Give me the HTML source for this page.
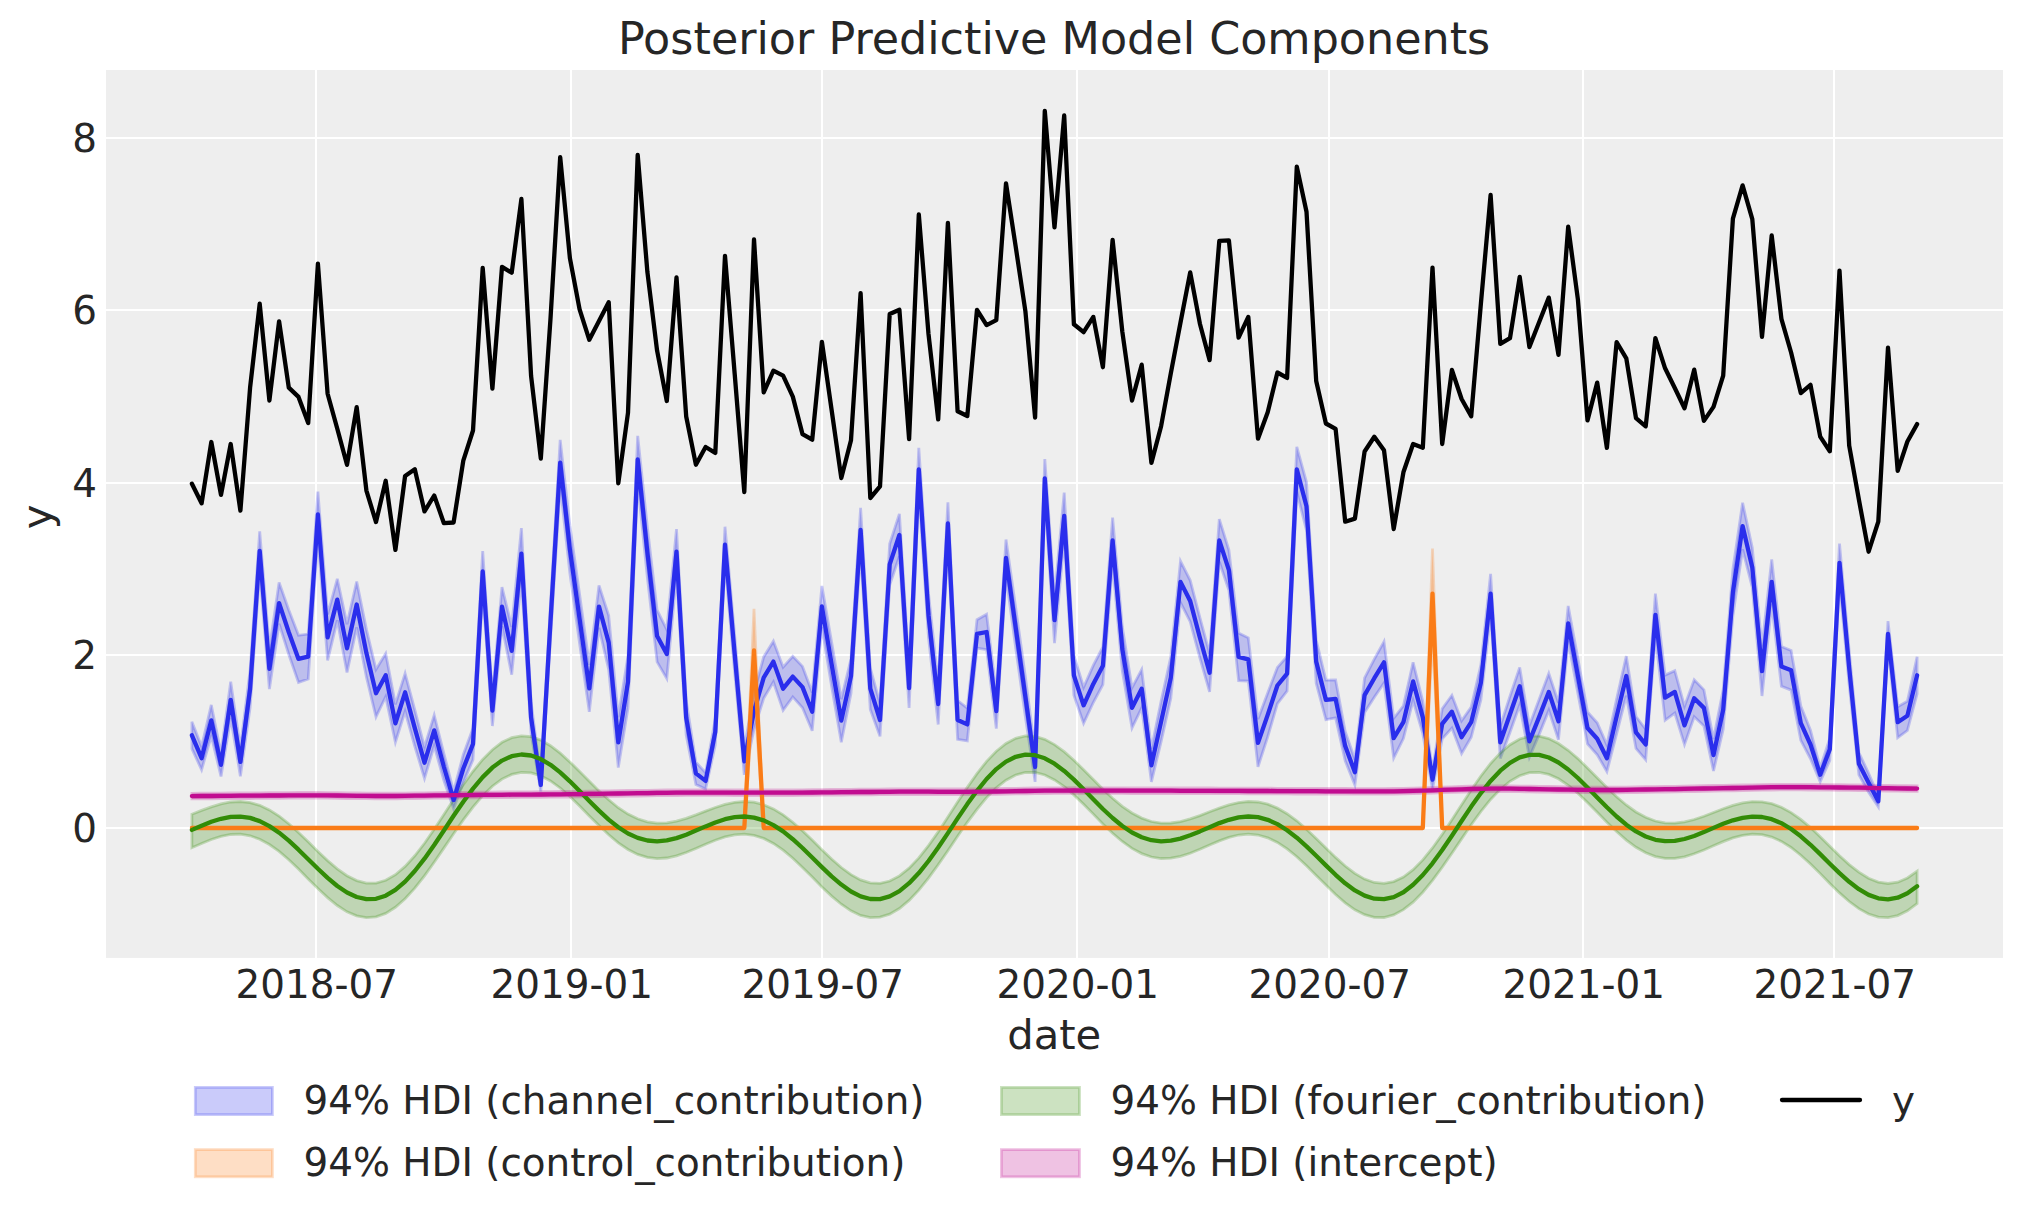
<!DOCTYPE html>
<html lang="en"><head><meta charset="utf-8"><title>Posterior Predictive Model Components</title>
<style>html,body{margin:0;padding:0;background:#fff}body{width:2023px;height:1223px;overflow:hidden}</style></head>
<body>
<svg width="2023" height="1223" viewBox="0 0 2023 1223" style="display:block;font-family:'DejaVu Sans','Liberation Sans',sans-serif">
<rect width="2023" height="1223" fill="#fff"/>
<rect x="106.0" y="70.0" width="1897.0" height="887.9" fill="#eeeeee"/>
<g fill="#fff" shape-rendering="crispEdges">
<rect x="315" y="70.0" width="2" height="887.9"/>
<rect x="570" y="70.0" width="2" height="887.9"/>
<rect x="821" y="70.0" width="2" height="887.9"/>
<rect x="1076" y="70.0" width="2" height="887.9"/>
<rect x="1328" y="70.0" width="2" height="887.9"/>
<rect x="1582" y="70.0" width="2" height="887.9"/>
<rect x="1833" y="70.0" width="2" height="887.9"/>
<rect x="106.0" y="827" width="1897.0" height="2"/>
<rect x="106.0" y="654" width="1897.0" height="2"/>
<rect x="106.0" y="482" width="1897.0" height="2"/>
<rect x="106.0" y="309" width="1897.0" height="2"/>
<rect x="106.0" y="137" width="1897.0" height="2"/>
</g>
<clipPath id="c"><rect x="106.0" y="70.0" width="1897.0" height="887.9"/></clipPath>
<g clip-path="url(#c)">
<polygon points="191.9,721.8 201.6,746.5 211.3,704.9 221.0,753.1 230.7,681.7 240.4,747.6 250.1,670.1 259.7,531.3 269.4,648.6 279.1,582.4 288.8,610.0 298.5,635.3 308.2,634.1 317.9,491.5 327.6,614.5 337.3,578.9 347.0,624.1 356.7,581.5 366.4,629.4 376.0,669.5 385.7,653.6 395.4,704.3 405.1,673.4 414.8,709.9 424.5,747.2 434.2,715.1 443.9,753.5 453.6,791.3 463.3,754.6 473.0,728.3 482.7,551.0 492.4,695.3 502.0,587.0 511.7,626.9 521.4,528.1 531.1,701.9 540.8,778.3 550.5,603.6 560.2,439.9 569.9,525.4 579.6,594.4 589.3,664.8 599.0,585.4 608.7,615.5 618.3,717.2 628.0,655.8 637.7,435.9 647.4,527.4 657.1,610.2 666.8,629.5 676.5,529.1 686.2,700.5 695.9,762.2 705.6,772.7 715.3,718.8 725.0,526.7 734.7,635.9 744.3,748.1 754.0,692.7 763.7,656.9 773.4,641.2 783.1,667.2 792.8,656.3 802.5,666.4 812.2,692.5 821.9,586.0 831.6,642.1 841.3,699.1 851.0,658.7 860.6,507.9 870.3,668.0 880.0,703.6 889.7,543.7 899.4,513.9 909.1,668.3 918.8,447.9 928.5,593.4 938.2,683.6 947.9,502.2 957.6,700.6 967.3,708.1 977.0,619.7 986.6,614.3 996.3,693.5 1006.0,539.5 1015.7,607.8 1025.4,677.0 1035.1,751.9 1044.8,459.1 1054.5,597.2 1064.2,492.6 1073.9,655.5 1083.6,687.2 1093.3,665.4 1102.9,647.0 1112.6,517.5 1122.3,626.8 1132.0,687.8 1141.7,669.6 1151.4,748.7 1161.1,701.4 1170.8,656.7 1180.5,561.2 1190.2,580.3 1199.9,617.6 1209.6,653.6 1219.3,519.1 1228.9,550.0 1238.6,633.0 1248.3,637.8 1258.0,719.1 1267.7,692.9 1277.4,667.4 1287.1,656.5 1296.8,446.9 1306.5,482.2 1316.2,640.1 1325.9,680.1 1335.6,680.0 1345.2,731.5 1354.9,759.5 1364.6,677.9 1374.3,659.2 1384.0,641.6 1393.7,718.3 1403.4,705.8 1413.1,662.3 1422.8,701.2 1432.5,770.1 1442.2,708.7 1451.9,695.3 1461.6,720.8 1471.2,707.1 1480.9,664.9 1490.6,573.9 1500.3,726.1 1510.0,696.3 1519.7,667.4 1529.4,725.4 1539.1,699.6 1548.8,673.5 1558.5,702.8 1568.2,605.9 1577.9,658.5 1587.5,712.0 1597.2,722.8 1606.9,744.9 1616.6,699.1 1626.3,656.1 1636.0,716.5 1645.7,729.3 1655.4,593.7 1665.1,675.1 1674.8,670.8 1684.5,706.3 1694.2,679.8 1703.9,689.8 1713.5,739.1 1723.2,689.6 1732.9,569.2 1742.6,502.8 1752.3,547.7 1762.0,646.4 1771.7,559.5 1781.4,646.6 1791.1,650.4 1800.8,705.9 1810.5,730.3 1820.2,767.9 1829.8,738.1 1839.5,543.6 1849.2,650.8 1858.9,752.5 1868.6,773.3 1878.3,795.7 1888.0,621.1 1897.7,706.7 1907.4,701.2 1917.1,656.8 1917.1,693.9 1907.4,730.5 1897.7,737.7 1888.0,646.6 1878.3,806.9 1868.6,792.3 1858.9,774.9 1849.2,685.2 1839.5,581.9 1829.8,760.5 1820.2,781.7 1810.5,758.8 1800.8,740.4 1791.1,690.1 1781.4,686.2 1771.7,604.3 1762.0,696.0 1752.3,587.4 1742.6,549.4 1732.9,615.7 1723.2,729.3 1713.5,771.0 1703.9,726.0 1694.2,716.8 1684.5,744.6 1674.8,713.1 1665.1,720.3 1655.4,635.8 1645.7,759.8 1636.0,748.4 1626.3,695.8 1616.6,733.9 1606.9,771.6 1597.2,754.8 1587.5,743.9 1577.9,693.5 1568.2,640.9 1558.5,739.7 1548.8,710.4 1539.1,734.6 1529.4,757.3 1519.7,705.0 1510.0,732.2 1500.3,758.5 1490.6,613.5 1480.9,699.8 1471.2,737.3 1461.6,753.6 1451.9,728.1 1442.2,738.9 1432.5,789.1 1422.8,733.7 1413.1,700.5 1403.4,738.6 1393.7,758.0 1384.0,683.0 1374.3,697.2 1364.6,712.4 1354.9,785.0 1345.2,760.8 1335.6,717.9 1325.9,719.7 1316.2,683.2 1306.5,530.5 1296.8,491.8 1287.1,691.0 1277.4,703.7 1267.7,736.9 1258.0,766.8 1248.3,681.0 1238.6,680.7 1228.9,590.2 1219.3,561.8 1209.6,691.9 1199.9,657.8 1190.2,621.7 1180.5,602.6 1170.8,698.4 1161.1,741.8 1151.4,781.8 1141.7,707.9 1132.0,728.0 1122.3,670.9 1112.6,563.4 1102.9,684.6 1093.3,702.5 1083.6,723.4 1073.9,695.2 1064.2,539.2 1054.5,643.1 1044.8,497.4 1035.1,781.9 1025.4,717.0 1015.7,647.9 1006.0,576.4 996.3,728.6 986.6,649.7 977.0,648.1 967.3,740.8 957.6,739.4 947.9,544.9 938.2,724.5 928.5,637.4 918.8,490.7 909.1,707.9 899.4,556.2 889.7,585.1 880.0,736.4 870.3,709.4 860.6,551.9 851.0,693.2 841.3,742.2 831.6,686.3 821.9,626.9 812.2,730.8 802.5,707.8 792.8,696.9 783.1,710.3 773.4,682.1 763.7,698.3 754.0,729.5 744.3,774.8 734.7,672.7 725.0,562.4 715.3,744.8 705.6,789.1 695.9,784.6 686.2,735.1 676.5,574.3 666.8,678.6 657.1,661.9 647.4,577.9 637.7,483.0 628.0,707.9 618.3,767.5 608.7,669.7 599.0,627.8 589.3,711.9 579.6,643.6 569.9,573.4 560.2,485.6 550.5,639.1 540.8,791.4 531.1,733.7 521.4,579.2 511.7,674.7 502.0,626.2 492.4,726.0 482.7,591.6 473.0,759.7 463.3,782.4 453.6,808.6 443.9,780.6 434.2,745.8 424.5,778.3 414.8,746.3 405.1,711.3 395.4,742.2 385.7,696.7 376.0,716.9 366.4,676.9 356.7,627.4 347.0,672.4 337.3,620.3 327.6,660.3 317.9,537.2 308.2,679.0 298.5,682.4 288.8,654.5 279.1,623.8 269.4,689.1 259.7,570.6 250.1,707.7 240.4,776.2 230.7,717.9 221.0,776.4 211.3,735.9 201.6,769.8 191.9,748.7" fill="#2a2eec" fill-opacity="0.25" stroke="#2a2eec" stroke-opacity="0.25" stroke-width="2.78" stroke-linejoin="miter"/>
<polygon points="191.9,828.0 201.6,828.0 211.3,828.0 221.0,828.0 230.7,828.0 240.4,828.0 250.1,828.0 259.7,828.0 269.4,828.0 279.1,828.0 288.8,828.0 298.5,828.0 308.2,828.0 317.9,828.0 327.6,828.0 337.3,828.0 347.0,828.0 356.7,828.0 366.4,828.0 376.0,828.0 385.7,828.0 395.4,828.0 405.1,828.0 414.8,828.0 424.5,828.0 434.2,828.0 443.9,828.0 453.6,828.0 463.3,828.0 473.0,828.0 482.7,828.0 492.4,828.0 502.0,828.0 511.7,828.0 521.4,828.0 531.1,828.0 540.8,828.0 550.5,828.0 560.2,828.0 569.9,828.0 579.6,828.0 589.3,828.0 599.0,828.0 608.7,828.0 618.3,828.0 628.0,828.0 637.7,828.0 647.4,828.0 657.1,828.0 666.8,828.0 676.5,828.0 686.2,828.0 695.9,828.0 705.6,828.0 715.3,828.0 725.0,828.0 734.7,828.0 744.3,828.0 754.0,608.9 763.7,828.0 773.4,828.0 783.1,828.0 792.8,828.0 802.5,828.0 812.2,828.0 821.9,828.0 831.6,828.0 841.3,828.0 851.0,828.0 860.6,828.0 870.3,828.0 880.0,828.0 889.7,828.0 899.4,828.0 909.1,828.0 918.8,828.0 928.5,828.0 938.2,828.0 947.9,828.0 957.6,828.0 967.3,828.0 977.0,828.0 986.6,828.0 996.3,828.0 1006.0,828.0 1015.7,828.0 1025.4,828.0 1035.1,828.0 1044.8,828.0 1054.5,828.0 1064.2,828.0 1073.9,828.0 1083.6,828.0 1093.3,828.0 1102.9,828.0 1112.6,828.0 1122.3,828.0 1132.0,828.0 1141.7,828.0 1151.4,828.0 1161.1,828.0 1170.8,828.0 1180.5,828.0 1190.2,828.0 1199.9,828.0 1209.6,828.0 1219.3,828.0 1228.9,828.0 1238.6,828.0 1248.3,828.0 1258.0,828.0 1267.7,828.0 1277.4,828.0 1287.1,828.0 1296.8,828.0 1306.5,828.0 1316.2,828.0 1325.9,828.0 1335.6,828.0 1345.2,828.0 1354.9,828.0 1364.6,828.0 1374.3,828.0 1384.0,828.0 1393.7,828.0 1403.4,828.0 1413.1,828.0 1422.8,828.0 1432.5,548.5 1442.2,828.0 1451.9,828.0 1461.6,828.0 1471.2,828.0 1480.9,828.0 1490.6,828.0 1500.3,828.0 1510.0,828.0 1519.7,828.0 1529.4,828.0 1539.1,828.0 1548.8,828.0 1558.5,828.0 1568.2,828.0 1577.9,828.0 1587.5,828.0 1597.2,828.0 1606.9,828.0 1616.6,828.0 1626.3,828.0 1636.0,828.0 1645.7,828.0 1655.4,828.0 1665.1,828.0 1674.8,828.0 1684.5,828.0 1694.2,828.0 1703.9,828.0 1713.5,828.0 1723.2,828.0 1732.9,828.0 1742.6,828.0 1752.3,828.0 1762.0,828.0 1771.7,828.0 1781.4,828.0 1791.1,828.0 1800.8,828.0 1810.5,828.0 1820.2,828.0 1829.8,828.0 1839.5,828.0 1849.2,828.0 1858.9,828.0 1868.6,828.0 1878.3,828.0 1888.0,828.0 1897.7,828.0 1907.4,828.0 1917.1,828.0 1917.1,828.0 1907.4,828.0 1897.7,828.0 1888.0,828.0 1878.3,828.0 1868.6,828.0 1858.9,828.0 1849.2,828.0 1839.5,828.0 1829.8,828.0 1820.2,828.0 1810.5,828.0 1800.8,828.0 1791.1,828.0 1781.4,828.0 1771.7,828.0 1762.0,828.0 1752.3,828.0 1742.6,828.0 1732.9,828.0 1723.2,828.0 1713.5,828.0 1703.9,828.0 1694.2,828.0 1684.5,828.0 1674.8,828.0 1665.1,828.0 1655.4,828.0 1645.7,828.0 1636.0,828.0 1626.3,828.0 1616.6,828.0 1606.9,828.0 1597.2,828.0 1587.5,828.0 1577.9,828.0 1568.2,828.0 1558.5,828.0 1548.8,828.0 1539.1,828.0 1529.4,828.0 1519.7,828.0 1510.0,828.0 1500.3,828.0 1490.6,828.0 1480.9,828.0 1471.2,828.0 1461.6,828.0 1451.9,828.0 1442.2,828.0 1432.5,638.2 1422.8,828.0 1413.1,828.0 1403.4,828.0 1393.7,828.0 1384.0,828.0 1374.3,828.0 1364.6,828.0 1354.9,828.0 1345.2,828.0 1335.6,828.0 1325.9,828.0 1316.2,828.0 1306.5,828.0 1296.8,828.0 1287.1,828.0 1277.4,828.0 1267.7,828.0 1258.0,828.0 1248.3,828.0 1238.6,828.0 1228.9,828.0 1219.3,828.0 1209.6,828.0 1199.9,828.0 1190.2,828.0 1180.5,828.0 1170.8,828.0 1161.1,828.0 1151.4,828.0 1141.7,828.0 1132.0,828.0 1122.3,828.0 1112.6,828.0 1102.9,828.0 1093.3,828.0 1083.6,828.0 1073.9,828.0 1064.2,828.0 1054.5,828.0 1044.8,828.0 1035.1,828.0 1025.4,828.0 1015.7,828.0 1006.0,828.0 996.3,828.0 986.6,828.0 977.0,828.0 967.3,828.0 957.6,828.0 947.9,828.0 938.2,828.0 928.5,828.0 918.8,828.0 909.1,828.0 899.4,828.0 889.7,828.0 880.0,828.0 870.3,828.0 860.6,828.0 851.0,828.0 841.3,828.0 831.6,828.0 821.9,828.0 812.2,828.0 802.5,828.0 792.8,828.0 783.1,828.0 773.4,828.0 763.7,828.0 754.0,691.7 744.3,828.0 734.7,828.0 725.0,828.0 715.3,828.0 705.6,828.0 695.9,828.0 686.2,828.0 676.5,828.0 666.8,828.0 657.1,828.0 647.4,828.0 637.7,828.0 628.0,828.0 618.3,828.0 608.7,828.0 599.0,828.0 589.3,828.0 579.6,828.0 569.9,828.0 560.2,828.0 550.5,828.0 540.8,828.0 531.1,828.0 521.4,828.0 511.7,828.0 502.0,828.0 492.4,828.0 482.7,828.0 473.0,828.0 463.3,828.0 453.6,828.0 443.9,828.0 434.2,828.0 424.5,828.0 414.8,828.0 405.1,828.0 395.4,828.0 385.7,828.0 376.0,828.0 366.4,828.0 356.7,828.0 347.0,828.0 337.3,828.0 327.6,828.0 317.9,828.0 308.2,828.0 298.5,828.0 288.8,828.0 279.1,828.0 269.4,828.0 259.7,828.0 250.1,828.0 240.4,828.0 230.7,828.0 221.0,828.0 211.3,828.0 201.6,828.0 191.9,828.0" fill="#fa7c17" fill-opacity="0.25" stroke="#fa7c17" stroke-opacity="0.25" stroke-width="2.78" stroke-linejoin="miter"/>
<polygon points="191.9,814.2 201.6,810.4 211.3,806.9 221.0,803.9 230.7,802.0 240.4,801.5 250.1,802.6 259.7,805.3 269.4,809.9 279.1,816.1 288.8,823.7 298.5,832.4 308.2,841.8 317.9,851.4 327.6,860.6 337.3,868.9 347.0,875.7 356.7,880.6 366.4,883.2 376.0,883.1 385.7,880.3 395.4,874.7 405.1,866.4 414.8,855.8 424.5,843.3 434.2,829.3 443.9,814.4 453.6,799.4 463.3,784.8 473.0,771.3 482.7,759.4 492.4,749.7 502.0,742.3 511.7,737.7 521.4,735.9 531.1,736.7 540.8,740.1 550.5,745.7 560.2,753.1 569.9,761.9 579.6,771.4 589.3,781.3 599.0,790.9 608.7,799.8 618.3,807.7 628.0,814.1 637.7,818.8 647.4,821.9 657.1,823.2 666.8,822.9 676.5,821.2 686.2,818.4 695.9,814.9 705.6,811.1 715.3,807.5 725.0,804.4 734.7,802.3 744.3,801.5 754.0,802.2 763.7,804.7 773.4,808.9 783.1,814.8 792.8,822.2 802.5,830.8 812.2,840.1 821.9,849.7 831.6,859.0 841.3,867.5 851.0,874.6 860.6,879.9 870.3,882.9 880.0,883.3 889.7,881.0 899.4,875.9 909.1,868.1 918.8,857.9 928.5,845.6 938.2,831.9 947.9,817.1 957.6,802.1 967.3,787.4 977.0,773.6 986.6,761.4 996.3,751.2 1006.0,743.5 1015.7,738.3 1025.4,736.0 1035.1,736.4 1044.8,739.3 1054.5,744.6 1064.2,751.7 1073.9,760.2 1083.6,769.7 1093.3,779.5 1102.9,789.2 1112.6,798.3 1122.3,806.4 1132.0,813.0 1141.7,818.1 1151.4,821.5 1161.1,823.1 1170.8,823.0 1180.5,821.6 1190.2,818.9 1199.9,815.6 1209.6,811.8 1219.3,808.1 1228.9,804.9 1238.6,802.6 1248.3,801.5 1258.0,802.0 1267.7,804.1 1277.4,808.1 1287.1,813.7 1296.8,820.8 1306.5,829.2 1316.2,838.4 1325.9,848.0 1335.6,857.4 1345.2,866.0 1354.9,873.4 1364.6,879.1 1374.3,882.5 1384.0,883.4 1393.7,881.6 1403.4,877.0 1413.1,869.7 1422.8,859.9 1432.5,848.0 1442.2,834.4 1451.9,819.8 1461.6,804.8 1471.2,789.9 1480.9,776.0 1490.6,763.5 1500.3,752.9 1510.0,744.7 1519.7,739.0 1529.4,736.2 1539.1,736.1 1548.8,738.6 1558.5,743.5 1568.2,750.3 1577.9,758.6 1587.5,768.0 1597.2,777.8 1606.9,787.5 1616.6,796.8 1626.3,805.0 1636.0,812.0 1645.7,817.3 1655.4,821.0 1665.1,822.9 1674.8,823.1 1684.5,821.9 1694.2,819.5 1703.9,816.2 1713.5,812.5 1723.2,808.7 1732.9,805.4 1742.6,802.9 1752.3,801.6 1762.0,801.8 1771.7,803.6 1781.4,807.2 1791.1,812.6 1800.8,819.4 1810.5,827.6 1820.2,836.7 1829.8,846.2 1839.5,855.7 1849.2,864.6 1858.9,872.2 1868.6,878.2 1878.3,882.1 1888.0,883.5 1897.7,882.2 1907.4,878.0 1917.1,871.2 1917.1,903.6 1907.4,910.8 1897.7,915.6 1888.0,917.6 1878.3,917.1 1868.6,914.0 1858.9,908.7 1849.2,901.5 1839.5,892.9 1829.8,883.4 1820.2,873.6 1810.5,864.0 1800.8,855.2 1791.1,847.5 1781.4,841.4 1771.7,837.1 1762.0,834.7 1752.3,834.2 1742.6,835.4 1732.9,837.9 1723.2,841.6 1713.5,845.7 1703.9,850.0 1694.2,853.8 1684.5,856.8 1674.8,858.4 1665.1,858.4 1655.4,856.6 1645.7,852.8 1636.0,847.3 1626.3,840.1 1616.6,831.6 1606.9,822.2 1597.2,812.3 1587.5,802.5 1577.9,793.3 1568.2,785.3 1558.5,778.8 1548.8,774.4 1539.1,772.3 1529.4,772.7 1519.7,775.7 1510.0,781.3 1500.3,789.4 1490.6,799.5 1480.9,811.5 1471.2,824.8 1461.6,838.9 1451.9,853.2 1442.2,867.3 1432.5,880.4 1422.8,892.2 1413.1,902.1 1403.4,909.7 1393.7,914.9 1384.0,917.5 1374.3,917.4 1364.6,914.7 1354.9,909.8 1345.2,902.9 1335.6,894.5 1325.9,885.1 1316.2,875.4 1306.5,865.7 1296.8,856.7 1287.1,848.8 1277.4,842.4 1267.7,837.8 1258.0,835.0 1248.3,834.1 1238.6,835.0 1228.9,837.4 1219.3,840.9 1209.6,845.0 1199.9,849.3 1190.2,853.2 1180.5,856.3 1170.8,858.2 1161.1,858.5 1151.4,857.0 1141.7,853.6 1132.0,848.4 1122.3,841.5 1112.6,833.2 1102.9,823.9 1093.3,814.1 1083.6,804.3 1073.9,794.9 1064.2,786.6 1054.5,779.9 1044.8,775.0 1035.1,772.5 1025.4,772.5 1015.7,775.0 1006.0,780.2 996.3,787.8 986.6,797.6 977.0,809.3 967.3,822.3 957.6,836.3 947.9,850.7 938.2,864.8 928.5,878.1 918.8,890.2 909.1,900.4 899.4,908.5 889.7,914.2 880.0,917.2 870.3,917.6 860.6,915.4 851.0,910.8 841.3,904.2 831.6,896.1 821.9,886.9 812.2,877.1 802.5,867.4 792.8,858.2 783.1,850.1 773.4,843.4 763.7,838.4 754.0,835.4 744.3,834.2 734.7,834.8 725.0,836.9 715.3,840.2 705.6,844.2 695.9,848.5 686.2,852.5 676.5,855.8 666.8,858.0 657.1,858.6 647.4,857.4 637.7,854.4 628.0,849.5 618.3,842.9 608.7,834.8 599.0,825.6 589.3,815.9 579.6,806.0 569.9,796.5 560.2,788.0 550.5,780.9 540.8,775.7 531.1,772.8 521.4,772.3 511.7,774.4 502.0,779.1 492.4,786.2 482.7,795.7 473.0,807.1 463.3,819.9 453.6,833.8 443.9,848.1 434.2,862.3 424.5,875.8 414.8,888.2 405.1,898.8 395.4,907.3 385.7,913.4 376.0,916.9 366.4,917.7 356.7,915.9 347.0,911.8 337.3,905.5 327.6,897.6 317.9,888.6 308.2,878.9 298.5,869.1 288.8,859.8 279.1,851.4 269.4,844.5 259.7,839.2 250.1,835.8 240.4,834.2 230.7,834.5 221.0,836.4 211.3,839.5 201.6,843.5 191.9,847.7" fill="#328c06" fill-opacity="0.25" stroke="#328c06" stroke-opacity="0.25" stroke-width="2.78" stroke-linejoin="miter"/>
<polygon points="191.9,793.3 201.6,793.2 211.3,793.2 221.0,793.1 230.7,793.0 240.4,792.9 250.1,792.9 259.7,792.8 269.4,792.7 279.1,792.7 288.8,792.6 298.5,792.5 308.2,792.5 317.9,792.5 327.6,792.6 337.3,792.7 347.0,792.9 356.7,793.0 366.4,793.1 376.0,793.2 385.7,793.2 395.4,793.2 405.1,793.1 414.8,792.9 424.5,792.8 434.2,792.6 443.9,792.5 453.6,792.4 463.3,792.3 473.0,792.2 482.7,792.1 492.4,792.1 502.0,792.0 511.7,791.9 521.4,791.8 531.1,791.8 540.8,791.7 550.5,791.6 560.2,791.5 569.9,791.4 579.6,791.3 589.3,791.1 599.0,791.0 608.7,790.8 618.3,790.7 628.0,790.5 637.7,790.4 647.4,790.3 657.1,790.1 666.8,790.0 676.5,789.9 686.2,789.8 695.9,789.8 705.6,789.8 715.3,789.8 725.0,789.8 734.7,789.9 744.3,789.9 754.0,789.9 763.7,789.9 773.4,789.9 783.1,789.9 792.8,789.9 802.5,789.8 812.2,789.7 821.9,789.6 831.6,789.5 841.3,789.4 851.0,789.3 860.6,789.2 870.3,789.2 880.0,789.1 889.7,789.0 899.4,788.9 909.1,788.9 918.8,788.9 928.5,788.9 938.2,789.0 947.9,789.0 957.6,789.0 967.3,789.0 977.0,788.9 986.6,788.8 996.3,788.7 1006.0,788.5 1015.7,788.3 1025.4,788.2 1035.1,788.0 1044.8,787.9 1054.5,787.8 1064.2,787.8 1073.9,787.7 1083.6,787.8 1093.3,787.8 1102.9,787.8 1112.6,787.8 1122.3,787.8 1132.0,787.9 1141.7,787.9 1151.4,787.9 1161.1,787.9 1170.8,787.9 1180.5,788.0 1190.2,788.0 1199.9,788.0 1209.6,788.0 1219.3,788.1 1228.9,788.1 1238.6,788.1 1248.3,788.2 1258.0,788.2 1267.7,788.2 1277.4,788.3 1287.1,788.3 1296.8,788.4 1306.5,788.4 1316.2,788.4 1325.9,788.5 1335.6,788.5 1345.2,788.5 1354.9,788.6 1364.6,788.6 1374.3,788.6 1384.0,788.6 1393.7,788.5 1403.4,788.3 1413.1,788.1 1422.8,787.8 1432.5,787.5 1442.2,787.1 1451.9,786.8 1461.6,786.5 1471.2,786.2 1480.9,786.0 1490.6,785.9 1500.3,785.9 1510.0,785.9 1519.7,786.1 1529.4,786.2 1539.1,786.4 1548.8,786.5 1558.5,786.7 1568.2,786.8 1577.9,787.0 1587.5,787.1 1597.2,787.2 1606.9,787.2 1616.6,787.2 1626.3,787.1 1636.0,786.9 1645.7,786.7 1655.4,786.6 1665.1,786.4 1674.8,786.3 1684.5,786.1 1694.2,785.9 1703.9,785.7 1713.5,785.5 1723.2,785.3 1732.9,785.2 1742.6,785.0 1752.3,784.8 1762.0,784.6 1771.7,784.4 1781.4,784.3 1791.1,784.3 1800.8,784.3 1810.5,784.4 1820.2,784.5 1829.8,784.6 1839.5,784.7 1849.2,784.8 1858.9,784.9 1868.6,785.1 1878.3,785.3 1888.0,785.4 1897.7,785.6 1907.4,785.7 1917.1,785.8 1917.1,791.4 1907.4,791.3 1897.7,791.2 1888.0,791.0 1878.3,790.9 1868.6,790.7 1858.9,790.5 1849.2,790.4 1839.5,790.3 1829.8,790.2 1820.2,790.1 1810.5,790.0 1800.8,789.9 1791.1,789.9 1781.4,789.9 1771.7,790.0 1762.0,790.2 1752.3,790.4 1742.6,790.6 1732.9,790.8 1723.2,790.9 1713.5,791.1 1703.9,791.3 1694.2,791.5 1684.5,791.7 1674.8,791.9 1665.1,792.0 1655.4,792.2 1645.7,792.3 1636.0,792.5 1626.3,792.7 1616.6,792.8 1606.9,792.8 1597.2,792.8 1587.5,792.7 1577.9,792.6 1568.2,792.4 1558.5,792.3 1548.8,792.1 1539.1,792.0 1529.4,791.8 1519.7,791.7 1510.0,791.5 1500.3,791.5 1490.6,791.5 1480.9,791.6 1471.2,791.8 1461.6,792.1 1451.9,792.4 1442.2,792.7 1432.5,793.1 1422.8,793.4 1413.1,793.7 1403.4,793.9 1393.7,794.1 1384.0,794.2 1374.3,794.2 1364.6,794.2 1354.9,794.2 1345.2,794.1 1335.6,794.1 1325.9,794.1 1316.2,794.0 1306.5,794.0 1296.8,794.0 1287.1,793.9 1277.4,793.9 1267.7,793.8 1258.0,793.8 1248.3,793.8 1238.6,793.7 1228.9,793.7 1219.3,793.7 1209.6,793.6 1199.9,793.6 1190.2,793.6 1180.5,793.6 1170.8,793.5 1161.1,793.5 1151.4,793.5 1141.7,793.5 1132.0,793.5 1122.3,793.4 1112.6,793.4 1102.9,793.4 1093.3,793.4 1083.6,793.4 1073.9,793.3 1064.2,793.4 1054.5,793.4 1044.8,793.5 1035.1,793.6 1025.4,793.8 1015.7,793.9 1006.0,794.1 996.3,794.3 986.6,794.4 977.0,794.5 967.3,794.6 957.6,794.6 947.9,794.6 938.2,794.6 928.5,794.5 918.8,794.5 909.1,794.5 899.4,794.5 889.7,794.6 880.0,794.7 870.3,794.8 860.6,794.8 851.0,794.9 841.3,795.0 831.6,795.1 821.9,795.2 812.2,795.3 802.5,795.4 792.8,795.5 783.1,795.5 773.4,795.5 763.7,795.5 754.0,795.5 744.3,795.5 734.7,795.5 725.0,795.4 715.3,795.4 705.6,795.4 695.9,795.4 686.2,795.4 676.5,795.5 666.8,795.6 657.1,795.7 647.4,795.9 637.7,796.0 628.0,796.1 618.3,796.3 608.7,796.4 599.0,796.6 589.3,796.7 579.6,796.9 569.9,797.0 560.2,797.1 550.5,797.2 540.8,797.3 531.1,797.4 521.4,797.4 511.7,797.5 502.0,797.6 492.4,797.7 482.7,797.7 473.0,797.8 463.3,797.9 453.6,798.0 443.9,798.1 434.2,798.2 424.5,798.4 414.8,798.5 405.1,798.7 395.4,798.8 385.7,798.8 376.0,798.8 366.4,798.7 356.7,798.6 347.0,798.5 337.3,798.3 327.6,798.2 317.9,798.1 308.2,798.1 298.5,798.1 288.8,798.2 279.1,798.3 269.4,798.3 259.7,798.4 250.1,798.5 240.4,798.5 230.7,798.6 221.0,798.7 211.3,798.8 201.6,798.8 191.9,798.9" fill="#c10c90" fill-opacity="0.25" stroke="#c10c90" stroke-opacity="0.25" stroke-width="2.78" stroke-linejoin="miter"/>
<polyline points="191.9,735.3 201.6,758.2 211.3,720.4 221.0,764.8 230.7,699.8 240.4,761.9 250.1,688.9 259.7,551.0 269.4,668.9 279.1,603.1 288.8,632.2 298.5,658.9 308.2,656.6 317.9,514.3 327.6,637.4 337.3,599.6 347.0,648.3 356.7,604.5 366.4,653.1 376.0,693.2 385.7,675.2 395.4,723.3 405.1,692.3 414.8,728.1 424.5,762.7 434.2,730.4 443.9,767.0 453.6,800.0 463.3,768.5 473.0,744.0 482.7,571.3 492.4,710.6 502.0,606.6 511.7,650.8 521.4,553.6 531.1,717.8 540.8,784.9 550.5,621.3 560.2,462.7 569.9,549.4 579.6,619.0 589.3,688.4 599.0,606.6 608.7,642.6 618.3,742.3 628.0,681.8 637.7,459.4 647.4,552.6 657.1,636.1 666.8,654.0 676.5,551.7 686.2,717.8 695.9,773.4 705.6,780.9 715.3,731.8 725.0,544.6 734.7,654.3 744.3,761.4 754.0,711.1 763.7,677.6 773.4,661.6 783.1,688.7 792.8,676.6 802.5,687.1 812.2,711.7 821.9,606.5 831.6,664.2 841.3,720.6 851.0,676.0 860.6,529.9 870.3,688.7 880.0,720.0 889.7,564.4 899.4,535.0 909.1,688.1 918.8,469.3 928.5,615.4 938.2,704.0 947.9,523.5 957.6,720.0 967.3,724.4 977.0,633.9 986.6,632.0 996.3,711.1 1006.0,558.0 1015.7,627.8 1025.4,697.0 1035.1,766.9 1044.8,478.3 1054.5,620.2 1064.2,515.9 1073.9,675.3 1083.6,705.3 1093.3,683.9 1102.9,665.8 1112.6,540.4 1122.3,648.9 1132.0,707.9 1141.7,688.7 1151.4,765.3 1161.1,721.6 1170.8,677.6 1180.5,581.9 1190.2,601.0 1199.9,637.7 1209.6,672.8 1219.3,540.4 1228.9,570.1 1238.6,656.8 1248.3,659.4 1258.0,742.9 1267.7,714.9 1277.4,685.5 1287.1,673.7 1296.8,469.3 1306.5,506.3 1316.2,661.6 1325.9,699.9 1335.6,698.9 1345.2,746.1 1354.9,772.3 1364.6,695.1 1374.3,678.2 1384.0,662.3 1393.7,738.2 1403.4,722.2 1413.1,681.4 1422.8,717.4 1432.5,779.6 1442.2,723.8 1451.9,711.7 1461.6,737.2 1471.2,722.2 1480.9,682.4 1490.6,593.7 1500.3,742.3 1510.0,714.2 1519.7,686.2 1529.4,741.3 1539.1,717.1 1548.8,691.9 1558.5,721.3 1568.2,623.4 1577.9,676.0 1587.5,728.0 1597.2,738.8 1606.9,758.3 1616.6,716.5 1626.3,676.0 1636.0,732.4 1645.7,744.5 1655.4,614.8 1665.1,697.7 1674.8,691.9 1684.5,725.4 1694.2,698.3 1703.9,707.9 1713.5,755.1 1723.2,709.5 1732.9,592.4 1742.6,526.1 1752.3,567.6 1762.0,671.2 1771.7,581.9 1781.4,666.4 1791.1,670.2 1800.8,723.2 1810.5,744.5 1820.2,774.8 1829.8,749.3 1839.5,562.8 1849.2,668.0 1858.9,763.7 1868.6,782.8 1878.3,801.3 1888.0,633.9 1897.7,722.2 1907.4,715.8 1917.1,675.3" fill="none" stroke="#2a2eec" stroke-width="4.3" stroke-linejoin="round" stroke-linecap="round"/>
<polyline points="191.9,828.0 201.6,828.0 211.3,828.0 221.0,828.0 230.7,828.0 240.4,828.0 250.1,828.0 259.7,828.0 269.4,828.0 279.1,828.0 288.8,828.0 298.5,828.0 308.2,828.0 317.9,828.0 327.6,828.0 337.3,828.0 347.0,828.0 356.7,828.0 366.4,828.0 376.0,828.0 385.7,828.0 395.4,828.0 405.1,828.0 414.8,828.0 424.5,828.0 434.2,828.0 443.9,828.0 453.6,828.0 463.3,828.0 473.0,828.0 482.7,828.0 492.4,828.0 502.0,828.0 511.7,828.0 521.4,828.0 531.1,828.0 540.8,828.0 550.5,828.0 560.2,828.0 569.9,828.0 579.6,828.0 589.3,828.0 599.0,828.0 608.7,828.0 618.3,828.0 628.0,828.0 637.7,828.0 647.4,828.0 657.1,828.0 666.8,828.0 676.5,828.0 686.2,828.0 695.9,828.0 705.6,828.0 715.3,828.0 725.0,828.0 734.7,828.0 744.3,828.0 754.0,650.3 763.7,828.0 773.4,828.0 783.1,828.0 792.8,828.0 802.5,828.0 812.2,828.0 821.9,828.0 831.6,828.0 841.3,828.0 851.0,828.0 860.6,828.0 870.3,828.0 880.0,828.0 889.7,828.0 899.4,828.0 909.1,828.0 918.8,828.0 928.5,828.0 938.2,828.0 947.9,828.0 957.6,828.0 967.3,828.0 977.0,828.0 986.6,828.0 996.3,828.0 1006.0,828.0 1015.7,828.0 1025.4,828.0 1035.1,828.0 1044.8,828.0 1054.5,828.0 1064.2,828.0 1073.9,828.0 1083.6,828.0 1093.3,828.0 1102.9,828.0 1112.6,828.0 1122.3,828.0 1132.0,828.0 1141.7,828.0 1151.4,828.0 1161.1,828.0 1170.8,828.0 1180.5,828.0 1190.2,828.0 1199.9,828.0 1209.6,828.0 1219.3,828.0 1228.9,828.0 1238.6,828.0 1248.3,828.0 1258.0,828.0 1267.7,828.0 1277.4,828.0 1287.1,828.0 1296.8,828.0 1306.5,828.0 1316.2,828.0 1325.9,828.0 1335.6,828.0 1345.2,828.0 1354.9,828.0 1364.6,828.0 1374.3,828.0 1384.0,828.0 1393.7,828.0 1403.4,828.0 1413.1,828.0 1422.8,828.0 1432.5,593.7 1442.2,828.0 1451.9,828.0 1461.6,828.0 1471.2,828.0 1480.9,828.0 1490.6,828.0 1500.3,828.0 1510.0,828.0 1519.7,828.0 1529.4,828.0 1539.1,828.0 1548.8,828.0 1558.5,828.0 1568.2,828.0 1577.9,828.0 1587.5,828.0 1597.2,828.0 1606.9,828.0 1616.6,828.0 1626.3,828.0 1636.0,828.0 1645.7,828.0 1655.4,828.0 1665.1,828.0 1674.8,828.0 1684.5,828.0 1694.2,828.0 1703.9,828.0 1713.5,828.0 1723.2,828.0 1732.9,828.0 1742.6,828.0 1752.3,828.0 1762.0,828.0 1771.7,828.0 1781.4,828.0 1791.1,828.0 1800.8,828.0 1810.5,828.0 1820.2,828.0 1829.8,828.0 1839.5,828.0 1849.2,828.0 1858.9,828.0 1868.6,828.0 1878.3,828.0 1888.0,828.0 1897.7,828.0 1907.4,828.0 1917.1,828.0" fill="none" stroke="#fa7c17" stroke-width="4.3" stroke-linejoin="round" stroke-linecap="round"/>
<polyline points="191.9,829.9 201.6,825.7 211.3,821.8 221.0,818.8 230.7,816.9 240.4,816.6 250.1,817.9 259.7,821.1 269.4,826.1 279.1,832.7 288.8,840.7 298.5,849.7 308.2,859.2 317.9,868.8 327.6,877.9 337.3,886.0 347.0,892.5 356.7,897.0 366.4,899.2 376.0,898.8 385.7,895.7 395.4,889.9 405.1,881.6 414.8,871.0 424.5,858.7 434.2,845.0 443.9,830.5 453.6,815.8 463.3,801.7 473.0,788.6 482.7,777.1 492.4,767.6 502.0,760.6 511.7,756.2 521.4,754.5 531.1,755.5 540.8,759.1 550.5,764.8 560.2,772.4 569.9,781.3 579.6,791.0 589.3,801.0 599.0,810.6 608.7,819.6 618.3,827.3 628.0,833.5 637.7,837.9 647.4,840.5 657.1,841.3 666.8,840.4 676.5,838.1 686.2,834.7 695.9,830.6 705.6,826.4 715.3,822.5 725.0,819.2 734.7,817.2 744.3,816.5 754.0,817.6 763.7,820.4 773.4,825.1 783.1,831.4 792.8,839.2 802.5,848.0 812.2,857.5 821.9,867.1 831.6,876.4 841.3,884.6 851.0,891.5 860.6,896.4 870.3,899.0 880.0,899.1 889.7,896.4 899.4,891.1 909.1,883.2 918.8,873.1 928.5,861.0 938.2,847.5 947.9,833.1 957.6,818.4 967.3,804.1 977.0,790.8 986.6,779.0 996.3,769.1 1006.0,761.6 1015.7,756.8 1025.4,754.6 1035.1,755.2 1044.8,758.3 1054.5,763.7 1064.2,770.9 1073.9,779.6 1083.6,789.2 1093.3,799.2 1102.9,809.0 1112.6,818.0 1122.3,826.0 1132.0,832.5 1141.7,837.2 1151.4,840.2 1161.1,841.3 1170.8,840.6 1180.5,838.6 1190.2,835.3 1199.9,831.4 1209.6,827.2 1219.3,823.1 1228.9,819.8 1238.6,817.4 1248.3,816.5 1258.0,817.2 1267.7,819.8 1277.4,824.1 1287.1,830.2 1296.8,837.7 1306.5,846.4 1316.2,855.8 1325.9,865.4 1335.6,874.8 1345.2,883.3 1354.9,890.4 1364.6,895.6 1374.3,898.7 1384.0,899.2 1393.7,897.1 1403.4,892.3 1413.1,884.8 1422.8,875.0 1432.5,863.3 1442.2,850.0 1451.9,835.7 1461.6,821.0 1471.2,806.6 1480.9,793.1 1490.6,780.9 1500.3,770.7 1510.0,762.8 1519.7,757.4 1529.4,754.8 1539.1,754.9 1548.8,757.5 1558.5,762.5 1568.2,769.5 1577.9,778.0 1587.5,787.5 1597.2,797.4 1606.9,807.2 1616.6,816.5 1626.3,824.7 1636.0,831.4 1645.7,836.5 1655.4,839.8 1665.1,841.2 1674.8,840.9 1684.5,839.0 1694.2,836.0 1703.9,832.1 1713.5,827.9 1723.2,823.8 1732.9,820.3 1742.6,817.8 1752.3,816.6 1762.0,817.0 1771.7,819.2 1781.4,823.2 1791.1,829.0 1800.8,836.3 1810.5,844.8 1820.2,854.1 1829.8,863.7 1839.5,873.1 1849.2,881.8 1858.9,889.2 1868.6,894.9 1878.3,898.3 1888.0,899.3 1897.7,897.7 1907.4,893.3 1917.1,886.3" fill="none" stroke="#328c06" stroke-width="4.3" stroke-linejoin="round" stroke-linecap="round"/>
<polyline points="191.9,796.1 201.6,796.0 211.3,796.0 221.0,795.9 230.7,795.8 240.4,795.7 250.1,795.7 259.7,795.6 269.4,795.5 279.1,795.5 288.8,795.4 298.5,795.3 308.2,795.3 317.9,795.3 327.6,795.4 337.3,795.5 347.0,795.7 356.7,795.8 366.4,795.9 376.0,796.0 385.7,796.0 395.4,796.0 405.1,795.9 414.8,795.7 424.5,795.6 434.2,795.4 443.9,795.3 453.6,795.2 463.3,795.1 473.0,795.0 482.7,794.9 492.4,794.9 502.0,794.8 511.7,794.7 521.4,794.6 531.1,794.6 540.8,794.5 550.5,794.4 560.2,794.3 569.9,794.2 579.6,794.1 589.3,793.9 599.0,793.8 608.7,793.6 618.3,793.5 628.0,793.3 637.7,793.2 647.4,793.1 657.1,792.9 666.8,792.8 676.5,792.7 686.2,792.6 695.9,792.6 705.6,792.6 715.3,792.6 725.0,792.6 734.7,792.7 744.3,792.7 754.0,792.7 763.7,792.7 773.4,792.7 783.1,792.7 792.8,792.7 802.5,792.6 812.2,792.5 821.9,792.4 831.6,792.3 841.3,792.2 851.0,792.1 860.6,792.0 870.3,792.0 880.0,791.9 889.7,791.8 899.4,791.7 909.1,791.7 918.8,791.7 928.5,791.7 938.2,791.8 947.9,791.8 957.6,791.8 967.3,791.8 977.0,791.7 986.6,791.6 996.3,791.5 1006.0,791.3 1015.7,791.1 1025.4,791.0 1035.1,790.8 1044.8,790.7 1054.5,790.6 1064.2,790.6 1073.9,790.5 1083.6,790.6 1093.3,790.6 1102.9,790.6 1112.6,790.6 1122.3,790.6 1132.0,790.7 1141.7,790.7 1151.4,790.7 1161.1,790.7 1170.8,790.7 1180.5,790.8 1190.2,790.8 1199.9,790.8 1209.6,790.8 1219.3,790.9 1228.9,790.9 1238.6,790.9 1248.3,791.0 1258.0,791.0 1267.7,791.0 1277.4,791.1 1287.1,791.1 1296.8,791.2 1306.5,791.2 1316.2,791.2 1325.9,791.3 1335.6,791.3 1345.2,791.3 1354.9,791.4 1364.6,791.4 1374.3,791.4 1384.0,791.4 1393.7,791.3 1403.4,791.1 1413.1,790.9 1422.8,790.6 1432.5,790.3 1442.2,789.9 1451.9,789.6 1461.6,789.3 1471.2,789.0 1480.9,788.8 1490.6,788.7 1500.3,788.7 1510.0,788.7 1519.7,788.9 1529.4,789.0 1539.1,789.2 1548.8,789.3 1558.5,789.5 1568.2,789.6 1577.9,789.8 1587.5,789.9 1597.2,790.0 1606.9,790.0 1616.6,790.0 1626.3,789.9 1636.0,789.7 1645.7,789.5 1655.4,789.4 1665.1,789.2 1674.8,789.1 1684.5,788.9 1694.2,788.7 1703.9,788.5 1713.5,788.3 1723.2,788.1 1732.9,788.0 1742.6,787.8 1752.3,787.6 1762.0,787.4 1771.7,787.2 1781.4,787.1 1791.1,787.1 1800.8,787.1 1810.5,787.2 1820.2,787.3 1829.8,787.4 1839.5,787.5 1849.2,787.6 1858.9,787.7 1868.6,787.9 1878.3,788.1 1888.0,788.2 1897.7,788.4 1907.4,788.5 1917.1,788.6" fill="none" stroke="#c10c90" stroke-width="4.3" stroke-linejoin="round" stroke-linecap="round"/>
<polyline points="191.9,483.7 201.6,503.3 211.3,442.0 221.0,494.8 230.7,444.0 240.4,510.7 250.1,387.6 259.7,303.7 269.4,400.6 279.1,321.3 288.8,387.6 298.5,396.9 308.2,423.1 317.9,263.7 327.6,393.7 337.3,428.8 347.0,464.8 356.7,407.2 366.4,490.6 376.0,522.0 385.7,480.8 395.4,549.9 405.1,475.9 414.8,469.2 424.5,511.4 434.2,495.5 443.9,523.2 453.6,522.5 463.3,460.7 473.0,430.5 482.7,268.0 492.4,388.6 502.0,266.8 511.7,272.7 521.4,199.0 531.1,376.1 540.8,458.5 550.5,318.7 560.2,157.1 569.9,258.1 579.6,309.3 589.3,339.8 599.0,321.1 608.7,302.2 618.3,483.3 628.0,412.8 637.7,154.9 647.4,272.1 657.1,350.7 666.8,401.0 676.5,277.3 686.2,416.5 695.9,464.7 705.6,447.0 715.3,452.9 725.0,255.9 734.7,374.0 744.3,492.0 754.0,239.5 763.7,392.4 773.4,370.7 783.1,375.7 792.8,396.6 802.5,434.1 812.2,439.7 821.9,341.8 831.6,409.9 841.3,478.0 851.0,440.2 860.6,293.2 870.3,498.0 880.0,486.4 889.7,314.0 899.4,309.8 909.1,439.1 918.8,214.5 928.5,334.0 938.2,419.4 947.9,222.8 957.6,411.3 967.3,416.0 977.0,309.8 986.6,325.1 996.3,320.1 1006.0,183.3 1015.7,246.7 1025.4,311.3 1035.1,417.5 1044.8,110.9 1054.5,227.4 1064.2,115.5 1073.9,324.3 1083.6,332.1 1093.3,316.9 1102.9,367.2 1112.6,239.8 1122.3,331.5 1132.0,400.5 1141.7,364.7 1151.4,462.9 1161.1,426.2 1170.8,373.4 1180.5,322.5 1190.2,272.4 1199.9,323.7 1209.6,360.1 1219.3,240.8 1228.9,240.4 1238.6,337.7 1248.3,316.9 1258.0,438.7 1267.7,412.3 1277.4,372.5 1287.1,377.9 1296.8,166.6 1306.5,211.7 1316.2,381.0 1325.9,423.5 1335.6,428.9 1345.2,521.7 1354.9,518.6 1364.6,451.5 1374.3,436.7 1384.0,450.3 1393.7,529.0 1403.4,472.3 1413.1,444.0 1422.8,447.8 1432.5,267.7 1442.2,444.0 1451.9,370.0 1461.6,399.0 1471.2,416.3 1480.9,303.6 1490.6,195.0 1500.3,343.9 1510.0,338.2 1519.7,276.8 1529.4,347.0 1539.1,322.2 1548.8,297.6 1558.5,354.9 1568.2,226.7 1577.9,299.5 1587.5,420.4 1597.2,382.6 1606.9,447.9 1616.6,342.2 1626.3,358.3 1636.0,418.2 1645.7,426.3 1655.4,338.1 1665.1,368.3 1674.8,388.0 1684.5,408.3 1694.2,369.7 1703.9,420.9 1713.5,406.9 1723.2,375.6 1732.9,218.6 1742.6,185.4 1752.3,219.1 1762.0,336.8 1771.7,235.4 1781.4,318.8 1791.1,352.5 1800.8,393.1 1810.5,384.9 1820.2,436.6 1829.8,451.3 1839.5,270.7 1849.2,445.7 1858.9,499.7 1868.6,551.7 1878.3,521.6 1888.0,347.6 1897.7,470.9 1907.4,441.5 1917.1,424.1" fill="none" stroke="#000" stroke-width="4.3" stroke-linejoin="round" stroke-linecap="round"/>
</g>
<g fill="#262626">
<text x="1054.1" y="53.5" font-size="44.44" text-anchor="middle">Posterior Predictive Model Components</text>
<text x="316.8" y="998.3" font-size="38.89" text-anchor="middle">2018-07</text>
<text x="571.8" y="998.3" font-size="38.89" text-anchor="middle">2019-01</text>
<text x="822.8" y="998.3" font-size="38.89" text-anchor="middle">2019-07</text>
<text x="1077.8" y="998.3" font-size="38.89" text-anchor="middle">2020-01</text>
<text x="1329.8" y="998.3" font-size="38.89" text-anchor="middle">2020-07</text>
<text x="1583.8" y="998.3" font-size="38.89" text-anchor="middle">2021-01</text>
<text x="1834.8" y="998.3" font-size="38.89" text-anchor="middle">2021-07</text>
<text x="96.9" y="841.9" font-size="38.89" text-anchor="end">0</text>
<text x="96.9" y="668.9" font-size="38.89" text-anchor="end">2</text>
<text x="96.9" y="496.9" font-size="38.89" text-anchor="end">4</text>
<text x="96.9" y="323.9" font-size="38.89" text-anchor="end">6</text>
<text x="96.9" y="151.9" font-size="38.89" text-anchor="end">8</text>
<text x="1054.2" y="1048.8" font-size="41.67" text-anchor="middle">date</text>
<text transform="translate(51,517) rotate(-90)" font-size="41.67" text-anchor="middle">y</text>
</g>
<rect x="195.3" y="1087.4" width="77.1" height="27.2" fill="#2a2eec" fill-opacity="0.25" stroke="#2a2eec" stroke-opacity="0.25" stroke-width="2.78"/>
<rect x="195.3" y="1149.6" width="77.1" height="27.2" fill="#fa7c17" fill-opacity="0.25" stroke="#fa7c17" stroke-opacity="0.25" stroke-width="2.78"/>
<rect x="1001.4" y="1087.4" width="78.1" height="27.2" fill="#328c06" fill-opacity="0.25" stroke="#328c06" stroke-opacity="0.25" stroke-width="2.78"/>
<rect x="1001.4" y="1149.6" width="78.1" height="27.2" fill="#c10c90" fill-opacity="0.25" stroke="#c10c90" stroke-opacity="0.25" stroke-width="2.78"/>
<line x1="1782.0" y1="1100" x2="1860.0" y2="1100" stroke="#000" stroke-width="4.3" stroke-linecap="round"/>
<g fill="#262626" font-size="38.89">
<text x="303.5" y="1114.1">94% HDI (channel_contribution)</text>
<text x="303.5" y="1176.3">94% HDI (control_contribution)</text>
<text x="1110.6" y="1114.2">94% HDI (fourier_contribution)</text>
<text x="1110.6" y="1176.4">94% HDI (intercept)</text>
<text x="1892" y="1114.2">y</text>
</g>
</svg>
</body></html>
